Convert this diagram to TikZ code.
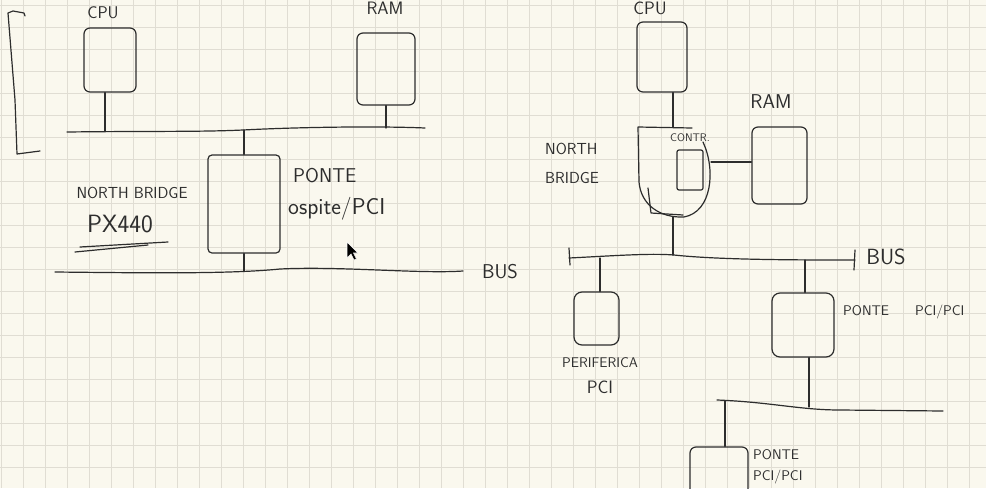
\documentclass[tikz,border=0pt]{standalone}
\usepackage{tikz}
\definecolor{paper}{RGB}{250,248,238}
\definecolor{gridc}{RGB}{224,221,211}
\definecolor{ink}{RGB}{45,45,45}

\begin{document}
\begin{tikzpicture}[x=1pt,y=-1pt,
	box/.style={draw=ink, line width=1.2pt, rounded corners=6pt, inner sep=0pt},
	wire/.style={draw=ink, line width=1.2pt, line cap=round, line join=round},
	lbl/.style={text=ink, inner sep=0pt, font=\sffamily\fontsize{#1}{#1}\selectfont},
	lbl/.default=17]
	\useasboundingbox (0,0) rectangle (986,488);
	\fill[paper] (0,0) rectangle (986,488);
	\foreach \gx in {0,...,44}
		\draw[gridc, line width=0.8pt] ({22*\gx+1.3},0) -- ({22*\gx+1.3},488);
	\foreach \gy in {0,...,21}
		\draw[gridc, line width=0.8pt] (0,{22*\gy+5.3}) -- (986,{22*\gy+5.3});

	\draw[wire] (25,16) -- (24,13) -- (13,11) -- (8,13) -- (15,100) -- (17,154) -- (40,151);

	\node (cpuL) at (110,60) [box, minimum width=52pt, minimum height=64pt] {};
	\node (ramL) at (386,69) [box, minimum width=58pt, minimum height=72pt] {};
	\node (nbL) at (244,204) [box, rounded corners=4pt, minimum width=72pt, minimum height=98pt] {};
		\node (tcpuL) at (103,13) [lbl] {CPU};
		\node (tramL) at (385,8) [lbl=18] {RAM};
		\node (tnbL) at (132,193) [lbl=16] {NORTH BRIDGE};
		\node (tpx) at (120,224) [lbl=25] {PX440};
		\node (tponteL) at (293,176) [lbl=20, anchor=west] {PONTE};
		\node (tospite) at (288,209) [lbl=23, anchor=west] {ospite/PCI};
		\node (tbusL) at (500,272) [lbl=20] {BUS};
	\draw[wire] (75,252) -- (148,245);
	\draw[wire] (80,247) -- (168,242);

	\draw[wire] (67,132) .. controls (150,131) and (200,132) .. (243,130) .. controls (300,127) and (380,126) .. (425,128);
	\draw[wire] (55,272) .. controls (150,273) and (230,274) .. (280,269) .. controls (340,266) and (420,274) .. (463,271);
	\coordinate (b1) at (105,131);
	\coordinate (b2) at (244,130);
	\coordinate (b3) at (386,128);
	\coordinate (b4) at (244,271);
	\draw[wire] (b1) -- (b1 |- cpuL.south);
	\draw[wire] (b2) -- (nbL.north);
	\draw[wire] (b3) -- (ramL.south);
	\draw[wire] (nbL.south) -- (b4);

	\filldraw[fill=black, draw=white, line width=0.6pt] (347,242) -- (347,258) -- (351,254) -- (354,260) -- (356.5,259) -- (353.5,253) -- (358,253) -- cycle;

	\node (cpuR) at (662,57) [box, minimum width=50pt, minimum height=70pt] {};
	\node (nbR) at (673,172) [minimum width=74pt, minimum height=90pt] {};
	\node (contr) at (690,170) [box, rounded corners=2pt, minimum width=26pt, minimum height=40pt] {};
	\node (ramR) at (779.5,165.5) [box, minimum width=55pt, minimum height=77pt] {};
	\node (peri) at (596.5,318.5) [box, rounded corners=8pt, minimum width=45pt, minimum height=53pt] {};
	\node (ppci) at (803,325) [box, rounded corners=8pt, minimum width=62pt, minimum height=64pt] {};
	\node (pbot) at (719,478) [box, minimum width=58pt, minimum height=62pt] {};
	\draw[wire] (692,128) -- (638,127) -- (639,182) .. controls (641,205) and (660,218) .. (684,217) .. controls (712,212) and (716,170) .. (703,142);
	\draw[wire] (648,188) -- (651,213) -- (683,215);
		\node (tcpuR) at (650,8) [lbl=18] {CPU};
		\node (tramR) at (771,102) [lbl=20] {RAM};
		\node (tnbR) at (545,163.5) [lbl=16, anchor=west, align=left] {NORTH\\[13pt]BRIDGE};
		\node (tcontr) at (690,138) [lbl=11] {CONTR.};
		\node (tbusR) at (886,257) [lbl=22] {BUS};
		\node (tperi) at (600,363) [lbl=14] {PERIFERICA};
		\node (tperipci) at (600,387) [lbl=18] {PCI};
		\node (tppci) at (843,312) [lbl=14, anchor=west] {PONTE\hspace{26pt}PCI/PCI};
		\node (tpbot) at (753,466.5) [lbl=14, anchor=west, align=left] {PONTE\\[7pt]PCI/PCI};

	\draw[wire] (569,258) .. controls (610,256) and (650,253) .. (674,255) .. controls (720,260) and (800,260) .. (855,260);
	\draw[wire] (569,248) -- (570,265);
	\draw[wire] (855,250) -- (854,270);
	\draw[wire] (717,400) .. controls (770,402) and (800,410) .. (840,410) -- (943,411);
	\coordinate (b5) at (600,258);
	\coordinate (b6) at (805,260);
	\coordinate (b7) at (809,407);
	\coordinate (b8) at (725,401);
	\coordinate (nbRe) at (711,162);
	\draw[wire] (cpuR.south -| nbR.north) -- (nbR.north);
	\draw[wire] (nbRe) -- (nbRe -| ramR.west);
	\draw[wire] (nbR.south) -- (nbR.south |- 0,255);
	\draw[wire] (b5) -- (b5 |- peri.north);
	\draw[wire] (b6) -- (b6 |- ppci.north);
	\draw[wire] (b7 |- ppci.south) -- (b7);
	\draw[wire] (b8) -- (b8 |- pbot.north);
\end{tikzpicture}
\end{document}
